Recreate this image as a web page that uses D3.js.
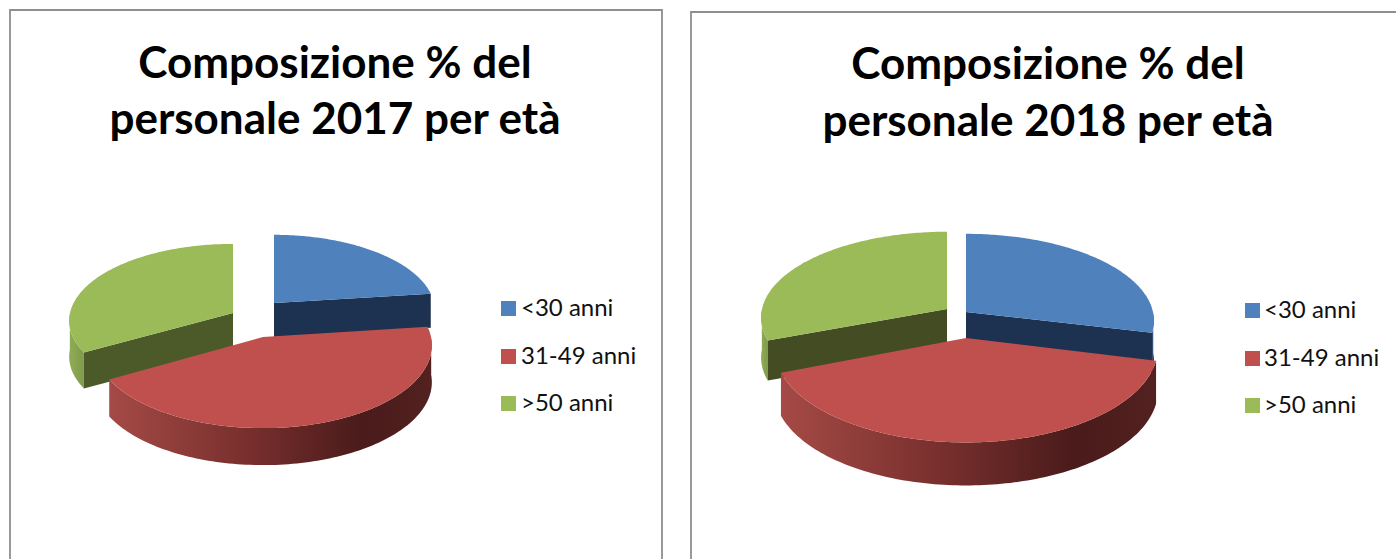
<!DOCTYPE html>
<html><head><meta charset="utf-8">
<script src="https://cdn.jsdelivr.net/npm/d3@7"></script>
<style>html,body{margin:0;padding:0;background:#fff}svg{display:block}</style>
</head><body><div id="c"></div>
<script>
// ---- data ----
const categories = ["<30 anni", "31-49 anni", ">50 anni"];
const values2017 = [23, 43.8, 33.2];
const values2018 = [28.8, 40.4, 30.8];
const titles2017 = ["Composizione % del", "personale 2017 per età"];
const titles2018 = ["Composizione % del", "personale 2018 per età"];
const colors = ["#4F81BD", "#C0504D", "#9BBB59"];

// ---- layout ----
const W = 1396, H = 559;
const persp = 0.1;
const charts = [
  { values: values2017, titles: titles2017, frame: [10, 10, 662], tx: 335, ty: [78, 134],
    lx: 501, ly: [301, 349, 396], txt: 521,
    wall: ["#1D3250", "#4F1F1E", "#4C5A29"],
    slices: [
      { ax: 274, ay: 303, r: 160, ry: 75, d: 34 },
      { ax: 263, ay: 337, r: 168, ry: 82, d: 37 },
      { ax: 233, ay: 313, r: 163, ry: 76, d: 36 } ] },
  { values: values2018, titles: titles2018, frame: [691, 12, 1420], tx: 1048, ty: [79, 136],
    lx: 1245, ly: [303, 351, 398], txt: 1264,
    wall: ["#1D3250", "#4F1F1E", "#434C22"],
    slices: [
      { ax: 966, ay: 312, r: 187, ry: 86, d: 40 },
      { ax: 966, ay: 338, r: 191, ry: 94, d: 43 },
      { ax: 947, ay: 309, r: 185, ry: 85, d: 40 } ] }
];

const svg = d3.select("#c").append("svg").attr("width", W).attr("height", H);
const defs = svg.append("defs");
function grad(id, stops) {
  const g = defs.append("linearGradient").attr("id", id).attr("x1", 0).attr("x2", 1).attr("y1", 0).attr("y2", 0);
  stops.forEach(s => g.append("stop").attr("offset", s[0]).attr("stop-color", s[1]));
}
grad("sideRed", [[0, "#A54A46"], [0.45, "#752E2C"], [0.78, "#4A1B1B"], [1, "#522120"]]);
grad("sideGreen", [[0, "#8FAD55"], [1, "#7F9A4A"]]);
grad("sideBlue", [[0, "#2A4A72"], [1, "#1D3250"]]);
const sideFill = ["url(#sideBlue)", "url(#sideRed)", "url(#sideGreen)"];

const pie = d3.pie().sort(null).startAngle(0).endAngle(2 * Math.PI);
const path = d3.line();

charts.forEach(ch => {
  const arcs = pie(ch.values);
  svg.append("path")
    .attr("d", d3.line()([[ch.frame[0], H + 5], [ch.frame[0], ch.frame[1]], [ch.frame[2], ch.frame[1]], [ch.frame[2], H + 5]]))
    .attr("fill", "none").attr("stroke", "#8E8E8E").attr("stroke-width", 1.8);

  ch.titles.forEach((t, i) => svg.append("text").text(t)
    .attr("x", ch.tx).attr("y", ch.ty[i]).attr("text-anchor", "middle")
    .attr("font-family", "Lato").attr("font-weight", 700).attr("font-size", 44).attr("fill", "#000"));

  // back slices first, the red slice lies on top of the others
  [0, 2, 1].forEach(idx => {
    const a = arcs[idx], s = ch.slices[idx];
    const x = d3.scaleLinear().domain([-1, 1]).range([s.ax - s.r, s.ax + s.r]);
    const y = d3.scaleLinear().domain([-1, 1]).range([s.ay - s.ry, s.ay + s.ry]);
    const proj = (ang, rad = 1) => {
      const u = Math.sin(ang) * rad, v = -Math.cos(ang) * rad, k = 1 / (1 - persp * v);
      return [x(u * k), y(v * k)];
    };
    const angs = d3.range(0, 121).map(i => a.startAngle + (a.endAngle - a.startAngle) * i / 120);
    const rim = angs.map(g => proj(g));
    const g = svg.append("g");

    // outer wall: only the part of the rim that faces the viewer
    const front = angs.filter(t => Math.cos(t) < 0);
    if (front.length > 1) {
      const top = front.map(t => proj(t));
      const bot = top.map(p => [p[0], p[1] + s.d]).reverse();
      g.append("path").attr("d", path(top.concat(bot)) + "Z").attr("fill", sideFill[idx]);
    }
    // radial walls facing the viewer
    const apex = proj(0, 0);
    [a.startAngle, a.endAngle].forEach((t, j) => {
      const facing = (idx === 0 && j === 1) || (idx === 2 && j === 0);
      if (!facing) return;
      const e = proj(t);
      g.append("path").attr("d", path([apex, e, [e[0], e[1] + s.d], [apex[0], apex[1] + s.d]]) + "Z")
        .attr("fill", ch.wall[idx]);
    });
    // top face
    g.append("path").attr("d", path([apex].concat(rim)) + "Z").attr("fill", colors[idx]);
  });

  categories.forEach((c, i) => {
    svg.append("rect").attr("x", ch.lx).attr("y", ch.ly[i]).attr("width", 15).attr("height", 15).attr("fill", colors[i]);
    svg.append("text").text(c).attr("x", ch.txt).attr("y", ch.ly[i] + 15)
      .attr("font-family", "Lato").attr("font-size", 24).attr("fill", "#111");
  });
});
</script></body></html>
